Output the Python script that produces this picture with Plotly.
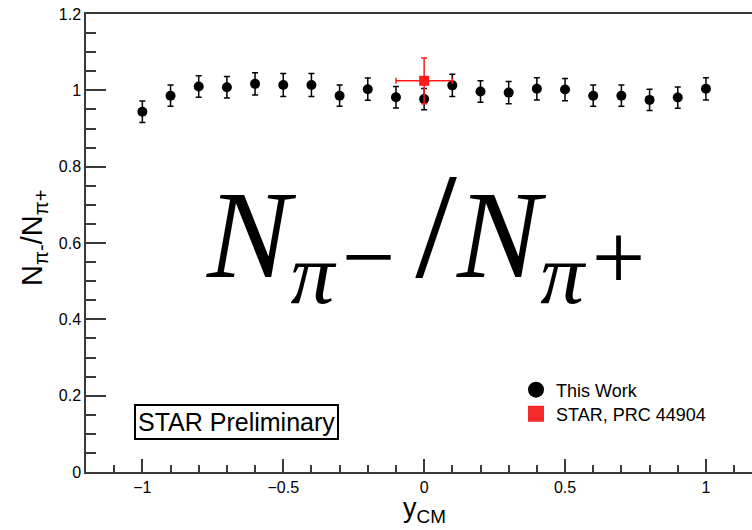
import plotly.graph_objects as go

# Data
y_cm = [-1.0, -0.9, -0.8, -0.7, -0.6, -0.5, -0.4, -0.3, -0.2, -0.1, 0.0,
        0.1, 0.2, 0.3, 0.4, 0.5, 0.6, 0.7, 0.8, 0.9, 1.0]
ratio = [0.944, 0.986, 1.010, 1.008, 1.017, 1.014, 1.014, 0.986, 1.003, 0.982, 0.977,
         1.013, 0.997, 0.994, 1.004, 1.002, 0.986, 0.986, 0.975, 0.981, 1.004]
ratio_err = [0.028, 0.028, 0.028, 0.028, 0.029, 0.030, 0.030, 0.028, 0.029, 0.028, 0.028,
             0.029, 0.028, 0.029, 0.029, 0.029, 0.028, 0.028, 0.028, 0.028, 0.029]

star_x = [0.0]
star_y = [1.025]
star_xerr = [0.1]
star_yerr = [0.06]

AX = "#3a3a3a"
SANS = "Liberation Sans, Arial, Helvetica, sans-serif"
SERIF = "Liberation Serif, Times New Roman, serif"

fig = go.Figure()

fig.add_trace(go.Scatter(
    x=y_cm, y=ratio, mode="markers", showlegend=False,
    marker=dict(symbol="circle", size=10, color="black"),
    error_y=dict(type="data", array=ratio_err, color="black", thickness=1.5, width=3),
))
fig.add_trace(go.Scatter(
    x=star_x, y=star_y, mode="markers", showlegend=False,
    marker=dict(symbol="square", size=10, color="#ff1a1a"),
    error_y=dict(type="data", array=star_yerr, color="#ff1a1a", thickness=1.5, width=3),
    error_x=dict(type="data", array=star_xerr, color="#ff1a1a", thickness=1.5, width=3),
))
# legend entries
fig.add_trace(go.Scatter(x=[None], y=[None], mode="markers", name="This Work",
                         legend="legend",
                         marker=dict(symbol="circle", size=18, color="black")))
fig.add_trace(go.Scatter(x=[None], y=[None], mode="markers", name="STAR, PRC 44904",
                         legend="legend2",
                         marker=dict(symbol="square", size=17, color="#f52a2a")))

L, T, B = 86, 14, 58
W, H = 752, 530
pw, ph = W - L, H - T - B

def px(x):
    return (x - L) / pw

def py(y):
    return (H - B - y) / ph

leg_common = dict(xanchor="left", yanchor="middle", bgcolor="rgba(0,0,0,0)",
                  font=dict(family=SANS, size=18, color="black"),
                  itemsizing="trace", borderwidth=0)

fig.update_layout(
    width=W, height=H,
    margin=dict(l=L, r=0, t=T, b=B, autoexpand=False),
    paper_bgcolor="white", plot_bgcolor="white",
    font=dict(family=SANS, color="black", size=16),
    legend=dict(x=px(516), y=py(390), **leg_common),
    legend2=dict(x=px(516), y=py(414), **leg_common),
    xaxis=dict(range=[-1.2, 1.1635], tickmode="linear", tick0=0, dtick=0.5,
               ticks="inside", ticklen=13, tickwidth=1.5, tickcolor=AX,
               showline=True, linecolor=AX, linewidth=1.5, mirror=True,
               showgrid=False, zeroline=False, automargin=False,
               tickfont=dict(family=SANS, size=16, color="black"),
               minor=dict(ticks="inside", ticklen=7, dtick=0.1, tick0=0,
                          tickwidth=1.5, tickcolor=AX, showgrid=False)),
    yaxis=dict(range=[0, 1.2], tickmode="linear", tick0=0, dtick=0.2,
               ticks="inside", ticklen=20, tickwidth=1.5, tickcolor=AX,
               showline=True, linecolor=AX, linewidth=1.5, mirror=False,
               showgrid=False, zeroline=False, automargin=False,
               tickfont=dict(family=SANS, size=16, color="black"),
               minor=dict(ticks="inside", ticklen=10, dtick=0.05, tick0=0,
                          tickwidth=1.5, tickcolor=AX, showgrid=False)),
)

fig.add_annotation(xref="paper", yref="paper", x=px(34), y=py(238),
                   text="N<sub>π-</sub>/N<sub>π+</sub>", textangle=-90,
                   showarrow=False, xanchor="center", yanchor="middle",
                   font=dict(family=SANS, size=29, color="black"))
fig.add_annotation(xref="paper", yref="paper", x=px(424), y=py(510),
                   text="y<sub>CM</sub>", showarrow=False,
                   xanchor="center", yanchor="middle",
                   font=dict(family=SANS, size=27, color="black"))
fig.add_annotation(xref="paper", yref="paper", x=px(236), y=py(422),
                   text="STAR Preliminary", showarrow=False,
                   xanchor="center", yanchor="middle",
                   bordercolor="black", borderwidth=2, borderpad=2, bgcolor="white",
                   font=dict(family=SANS, size=25, color="black"))

def charge(sign):
    return ("<span style='font-size:30px'> </span>"
            "<span style='font-size:55px'><sub><span style='font-size:95px'>"
            + sign + "</span></sub></span>")

formula = ("<i>N</i><sub><i>π</i></sub>" + charge("−")
           + "<span style='font-size:80px'> </span>"
           + "<span style='font-size:150px'>/</span>"
           + "<i>N</i><sub><i>π</i></sub>" + charge("+"))

fig.add_annotation(xref="paper", yref="paper", x=px(425), y=py(232),
                   text=formula, showarrow=False, xanchor="center", yanchor="middle",
                   font=dict(family=SERIF, size=125, color="black"))

fig.write_html("out.html", config={"displayModeBar": False},
               post_script="document.body.style.margin='0px';")
